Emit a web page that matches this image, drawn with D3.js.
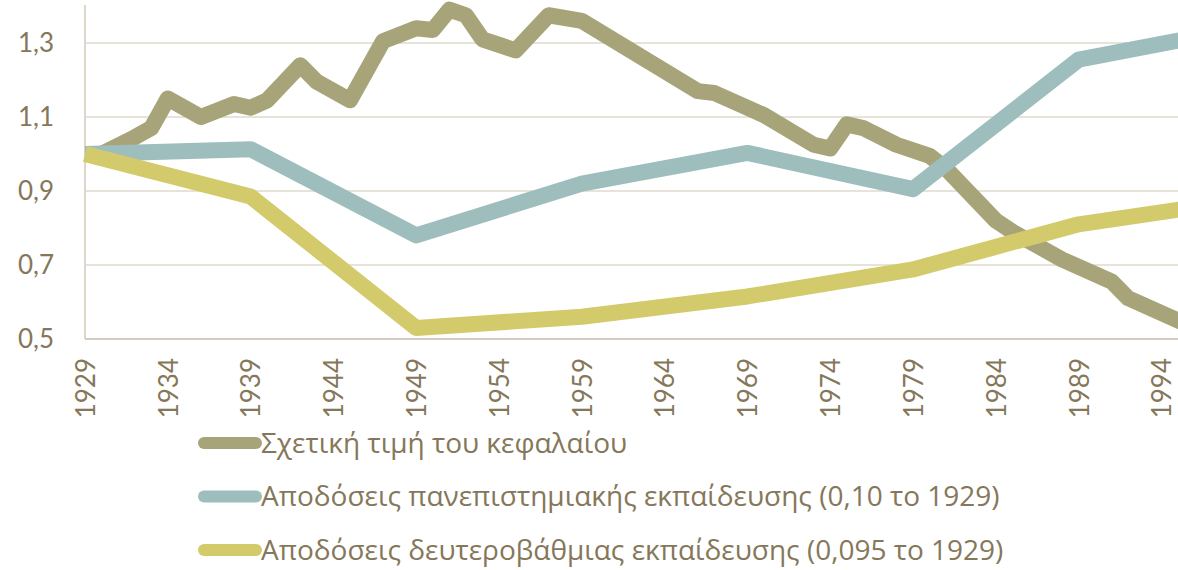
<!DOCTYPE html>
<html lang="el">
<head>
	<meta charset="utf-8">
	<title>D3</title>
	<style>
		body { margin: 0; background: #fff; }
		.grid line { stroke: #e7e3d9; stroke-width: 2px; }
		.serie { fill: none; stroke-width: 16px; stroke-linejoin: round; }
		.tick text { fill: #85775a; }
	</style>
</head>
<body>
	<div id="chart"></div>

	<script src="https://cdn.jsdelivr.net/npm/d3@7/dist/d3.min.js"></script>
	<script>
		var width = 1178,
		    height = 570;

		// Σχετική τιμή του κεφαλαίου
		var anosKefalaio = [1929, 1930, 1932, 1933, 1934, 1936, 1938, 1939, 1940, 1942, 1943, 1945, 1947, 1949, 1950, 1951, 1952, 1953, 1955, 1957, 1959, 1966, 1967, 1969, 1970, 1973, 1974, 1975, 1976, 1978, 1980, 1981, 1984, 1985, 1988, 1991, 1992, 1996];
		var kefalaio = [1.00, 1.00, 1.045, 1.07, 1.15, 1.10, 1.135, 1.125, 1.145, 1.24, 1.195, 1.145, 1.305, 1.34, 1.335, 1.39, 1.375, 1.31, 1.28, 1.375, 1.36, 1.17, 1.165, 1.125, 1.105, 1.025, 1.015, 1.08, 1.07, 1.025, 0.995, 0.96, 0.82, 0.79, 0.715, 0.655, 0.61, 0.53];

		// αποδόσεις εκπαίδευσης, ανά δεκαετία
		var anosEkpaideusi = [1929, 1939, 1949, 1959, 1969, 1979, 1989, 1996];
		var panepistimio = [1.00, 1.013, 0.78, 0.92, 1.003, 0.905, 1.255, 1.315];
		var defterovathmia = [1.00, 0.885, 0.53, 0.56, 0.615, 0.688, 0.81, 0.856];

		var onomata = [
			"Σχετική τιμή του κεφαλαίου",
			"Αποδόσεις πανεπιστημιακής εκπαίδευσης (0,10 το 1929)",
			"Αποδόσεις δευτεροβάθμιας εκπαίδευσης (0,095 το 1929)"
		];
		var xromata = ["#a8a47a", "#9dbebd", "#d3cb6b"];

		var yTicks = [0.5, 0.7, 0.9, 1.1, 1.3];
		var xTicks = d3.range(1929, 1995, 5);

		var series = [
			{ anos: anosKefalaio, times: kefalaio },
			{ anos: anosEkpaideusi, times: panepistimio },
			{ anos: anosEkpaideusi, times: defterovathmia }
		];

		var svg = d3.select("#chart")
			.append("svg")
			.attr("width", width)
			.attr("height", height);

		var x = d3.scaleLinear()
			.domain([1929, 1995])
			.range([85, 1178]);

		var y = d3.scaleLinear()
			.domain([0.5, 1.4])
			.range([339, 6]);

		// gridlines
		svg.append("g")
			.attr("class", "grid")
			.selectAll("line")
			.data(yTicks.slice(1))
		.enter().append("line")
			.attr("x1", x(1929))
			.attr("x2", width)
			.attr("y1", function(d) { return y(d); })
			.attr("y2", function(d) { return y(d); });

		// axes lines
		svg.append("line")
			.attr("x1", x(1929)).attr("x2", x(1929))
			.attr("y1", y(1.4) - 1).attr("y2", y(0.5))
			.attr("stroke", "#dcd7c8").attr("stroke-width", 2);
		svg.append("line")
			.attr("x1", x(1929)).attr("x2", width)
			.attr("y1", y(0.5)).attr("y2", y(0.5))
			.attr("stroke", "#d2cdbd").attr("stroke-width", 2);

		var yAxis = svg.append("g")
			.attr("transform", "translate(" + x(1929) + ",0)")
			.call(d3.axisLeft(y)
				.tickValues(yTicks)
				.tickSize(0)
				.tickPadding(31)
				.tickFormat(function(d) { return d3.format(".1f")(d).replace(".", ","); }));
		yAxis.select(".domain").remove();
		yAxis.selectAll("text")
			.style("font-family", "Lato, 'Open Sans', sans-serif")
			.style("font-size", "26px");

		var xAxis = svg.append("g")
			.attr("transform", "translate(0," + y(0.5) + ")")
			.call(d3.axisBottom(x)
				.tickValues(xTicks)
				.tickSize(0)
				.tickFormat(d3.format("d")));
		xAxis.select(".domain").remove();
		xAxis.selectAll("text")
			.style("font-family", "Lato, 'Open Sans', sans-serif")
			.style("font-size", "26px")
			.attr("text-anchor", "end")
			.attr("transform", "rotate(-90)")
			.attr("x", -19)
			.attr("y", 0)
			.attr("dy", "0.36em");

		var line = d3.line()
			.x(function(d) { return x(d[0]); })
			.y(function(d) { return y(d[1]); });

		svg.selectAll(".serie")
			.data(series)
		.enter().append("path")
			.attr("class", "serie")
			.attr("stroke", function(d, i) { return xromata[i]; })
			.attr("d", function(d) { return line(d3.zip(d.anos, d.times)); });

		// legend
		var legend = svg.selectAll(".legend")
			.data(onomata)
		.enter().append("g")
			.attr("class", "legend")
			.attr("transform", function(d, i) { return "translate(0," + (443 + i * 53.5) + ")"; });

		legend.append("line")
			.attr("x1", 204).attr("x2", 256)
			.attr("stroke", function(d, i) { return xromata[i]; })
			.attr("stroke-width", 12)
			.attr("stroke-linecap", "round");

		legend.append("text")
			.attr("x", 261)
			.attr("dy", "0.35em")
			.attr("fill", "#85775a")
			.style("font-family", "'Open Sans', sans-serif")
			.style("font-size", "28px")
			.text(function(d) { return d; });
	</script>
</body>
</html>
